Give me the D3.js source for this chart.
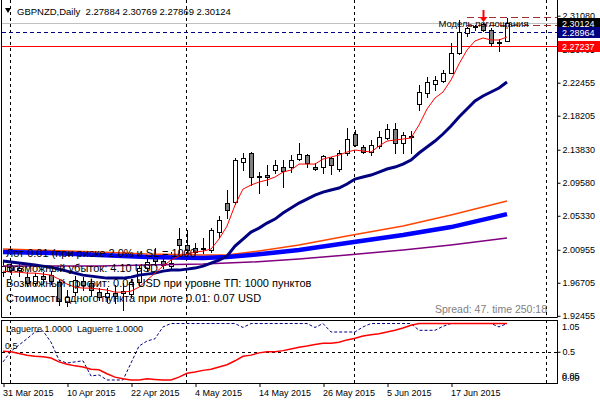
<!DOCTYPE html>
<html>
<head>
<meta charset="utf-8">
<script src="https://cdn.jsdelivr.net/npm/d3@7"></script>
<style>
  body { margin: 0; background: #fff; }
  svg { display: block; }
  text { font-family: "Liberation Sans", Arial, sans-serif; }
</style>
</head>
<body>
<div id="chart"></div>
<script>
// GBPNZD daily, 31 Mar 2015 .. 26 Jun 2015 (bar index 0..63)
const opens = [1.98076,1.98849,1.98334,1.97433,1.96661,1.97561,1.97690,1.96789,1.94213,1.95501,
  1.96918,1.96661,1.95501,1.94858,1.95373,1.95373,1.95244,1.96789,1.98592,2.00009,
  1.99493,1.98849,2.02327,2.01554,2.01168,2.01039,2.00910,2.03228,2.06963,2.07091,
  2.12242,2.13402,2.10439,2.10568,2.11212,2.11599,2.11599,2.12629,2.13144,2.11599,
  2.11599,2.12758,2.11341,2.13402,2.15849,2.14175,2.13530,2.14303,2.15334,2.16493,
  2.14690,2.15591,2.19712,2.21129,2.22288,2.22674,2.23704,2.26280,2.28855,2.29628,
  2.30014,2.29242,2.27696,2.27884];
const highs = [1.99364,1.99236,1.99107,1.98076,1.97948,1.98076,1.98205,1.97175,1.95759,1.97561,
  1.97433,1.97175,1.96017,1.96017,1.96403,1.96661,1.97175,1.98978,2.00137,2.01168,
  2.00266,2.00652,2.03743,2.03486,2.01812,2.02456,2.03743,2.05288,2.08637,2.12758,
  2.13402,2.13530,2.10954,2.11856,2.12500,2.12500,2.13144,2.14690,2.13273,2.12114,
  2.13144,2.12887,2.13788,2.16621,2.16364,2.14432,2.15076,2.16235,2.17136,2.17265,
  2.16106,2.16235,2.22159,2.23189,2.23318,2.24090,2.27567,2.30529,2.29628,2.29886,
  2.30143,2.29499,2.28083,2.30769];
const lows = [1.97561,1.97819,1.97561,1.96274,1.96403,1.96661,1.96532,1.93827,1.93698,1.95115,
  1.95759,1.95115,1.94471,1.94213,1.94085,1.93183,1.94858,1.96403,1.98205,1.98978,
  1.98592,1.98334,2.00266,1.99880,1.99880,2.00524,2.00652,2.02585,2.05031,2.06834,
  2.11212,2.09281,2.08251,2.09281,2.10826,2.09024,2.10954,2.12500,2.11599,2.11212,
  2.10826,2.10697,2.11083,2.13144,2.14303,2.13402,2.13144,2.14046,2.15205,2.13402,
  2.13402,2.13402,2.18939,2.20614,2.21515,2.22545,2.23640,2.26151,2.28469,2.29242,
  2.29113,2.27181,2.26537,2.27869];
const closes = [1.98849,1.98334,1.98592,1.96661,1.97561,1.97175,1.96918,1.94342,1.94858,1.97047,
  1.96403,1.95759,1.94858,1.95373,1.94986,1.95630,1.96789,1.98592,1.99364,1.99493,
  1.98978,1.99236,2.01554,2.00910,2.00652,2.01168,2.03486,2.04773,2.06061,2.12500,
  2.12758,2.10311,2.10380,2.10311,2.11856,2.11083,2.12500,2.13273,2.12114,2.11406,
  2.13015,2.11856,2.13402,2.15205,2.14432,2.13530,2.14432,2.15462,2.16493,2.14690,
  2.15720,2.15462,2.21257,2.22545,2.22803,2.23704,2.26280,2.28984,2.29499,2.29757,
  2.29242,2.27567,2.27632,2.30124];

// fast MA (red) and medium MA (navy), one value per bar
const maRed = [1.98205,1.98076,1.98076,1.97948,1.97948,1.97819,1.97690,1.97175,1.96532,1.96145,
  1.96017,1.96017,1.95888,1.95759,1.95501,1.95501,1.95630,1.96145,1.97047,1.97948,
  1.98849,1.99622,2.00137,2.00395,2.00652,2.00781,2.01039,2.02327,2.04001,2.06705,
  2.08766,2.09281,2.09667,2.09925,2.10311,2.10954,2.11212,2.11985,2.11985,2.11985,
  2.12629,2.12887,2.13144,2.13530,2.13788,2.13659,2.13530,2.14303,2.14947,2.15076,
  2.15205,2.15334,2.17007,2.19068,2.20485,2.21257,2.22803,2.24863,2.26666,2.27825,
  2.28211,2.27954,2.27954,2.28340];
const maNavy = [1.99493,1.99364,1.99236,1.99107,1.98978,1.98849,1.98720,1.98463,1.98205,1.97948,
  1.97690,1.97561,1.97433,1.97304,1.97304,1.97304,1.97433,1.97690,1.97819,1.97948,
  1.98205,1.98334,1.98334,1.98463,1.98592,1.98849,1.99236,1.99622,2.00137,2.01425,
  2.02327,2.03228,2.03743,2.04387,2.04902,2.05675,2.06319,2.06963,2.07478,2.07993,
  2.08379,2.08637,2.08895,2.09410,2.10054,2.10311,2.10568,2.10954,2.11341,2.11599,
  2.11985,2.12500,2.13402,2.14175,2.14947,2.15849,2.16879,2.18038,2.19068,2.20098,
  2.20742,2.21257,2.21772,2.22545];

// slow MAs, read at a few bars
const maBlueIdx = [0, 6, 12, 18, 25, 28, 31, 37, 43, 50, 56, 63];
const maBlue = [2.00652,2.00524,2.00266,2.00009,1.99880,2.00009,2.00266,2.00910,2.01812,2.02842,2.03872,2.05546];
const maOrangeIdx = [0, 12, 18, 25, 28, 31, 37, 43, 50, 56, 63];
const maOrange = [2.01039,2.00652,2.00395,2.00266,2.00266,2.00652,2.01554,2.02713,2.04001,2.05417,2.07220];
const maPurpleIdx = [0, 12, 18, 25, 31, 37, 43, 50, 56, 63];
const maPurple = [1.98849,1.98849,1.98978,1.99107,1.99364,1.99751,2.00266,2.00910,2.01554,2.02456];

// Laguerre subwindow
const lagRed = [0.51,0.50,0.47,0.44,0.42,0.41,0.39,0.32,0.28,0.25,
  0.23,0.19,0.18,0.11,0.05,0.02,0,0,0.02,0.01,
  0,0,0.05,0.12,0.14,0.17,0.19,0.23,0.27,0.34,
  0.42,0.44,0.48,0.50,0.50,0.52,0.55,0.58,0.60,0.63,
  0.65,0.65,0.67,0.71,0.74,0.78,0.80,0.82,0.85,0.88,
  0.92,0.97,1,1,1,1,1,1,1,1,
  1,1,1,1];
const lagBlue = [0.32,0.51,0.62,0.73,0.85,0.87,0.67,0.35,0.30,0.32,
  0.34,0.07,0.09,0,0,0,0.30,0.60,0.69,0.73,
  0.94,1,1,1,1,1,1,1,1,1,
  0.93,1,1,1,1,1,1,1,1,0.93,
  1,0.85,0.85,0.85,0.85,0.94,1,1,1,1,
  1,1,0.88,0.88,0.88,0.95,1,1,1,1,
  1,1,0.94,1];

// axes
const priceTicks = [2.31080, 2.26705, 2.22455, 2.18205, 2.13830, 2.09580, 2.05330, 2.00955, 1.96705, 1.92455];
const dateIdx = [0, 8, 16, 24, 32, 40, 48, 56];
const dateLabels = ["31 Mar 2015", "10 Apr 2015", "22 Apr 2015", "4 May 2015",
  "14 May 2015", "26 May 2015", "5 Jun 2015", "17 Jun 2015"];
const gridIdx = [1, 23, 44, 68];

// horizontal objects
const bidPrice = closes[closes.length - 1];
const navyLevel = 2.28964;
const redLevel = 2.27237;
const patternLevels = [2.30954, 2.29886];
const patternBar = 58;
const arrowBar = 60;

const infoLines = [
  "Лот 0.01 (при риске 2.0% и SL = 1000",
  "Возможный убыток: 4.10 USD",
  "Возможный профит: 0.04 USD при уровне ТП: 1000 пунктов",
  "Стоимость одного пункта при лоте 0.01: 0.07 USD"
];

const width = 600, height = 400;
const plotRight = 557, mainBottom = 317, subTop = 320, subBottom = 383;

const svg = d3.select("#chart").append("svg")
  .attr("width", width).attr("height", height);
svg.append("rect").attr("width", width).attr("height", height).attr("fill", "#fff");

const x = d3.scaleLinear().domain([0, 68]).range([3, 547]);
const y = d3.scaleLinear().domain([1.92300, 2.32841]).range([mainBottom, 2]);
const ySub = d3.scaleLinear().domain([-0.05, 1.05]).range([382.8, 320.7]);
const px = i => Math.round(x(i)) + 0.5;

const defs = svg.append("defs");
defs.append("clipPath").attr("id", "clipMain").append("rect")
  .attr("x", 2).attr("y", 0).attr("width", plotRight - 2).attr("height", mainBottom);
defs.append("clipPath").attr("id", "clipSub").append("rect")
  .attr("x", 2).attr("y", subTop + 1).attr("width", plotRight - 2).attr("height", subBottom - subTop - 1);

// vertical grid
gridIdx.forEach(i => {
  [[0, mainBottom], [subTop, subBottom]].forEach(([a, b]) => {
    svg.append("line")
      .attr("x1", px(i) - 1).attr("x2", px(i) - 1).attr("y1", a).attr("y2", b)
      .attr("stroke", "#000").attr("stroke-dasharray", "3,3");
  });
});

const main = svg.append("g").attr("clip-path", "url(#clipMain)");

// info text (drawn under the chart)
const info = svg.append("g").attr("font-size", 11).attr("fill", "#000");
infoLines.forEach((t, k) => {
  info.append("text").attr("x", 6).attr("y", 257 + k * 15).text(t);
});

// horizontal levels
main.append("line").attr("x1", 2).attr("x2", plotRight)
  .attr("y1", Math.round(y(bidPrice)) + 0.5).attr("y2", Math.round(y(bidPrice)) + 0.5)
  .attr("stroke", "#c0c0c0");
main.append("line").attr("x1", 2).attr("x2", plotRight)
  .attr("y1", Math.round(y(navyLevel)) + 0.5).attr("y2", Math.round(y(navyLevel)) + 0.5)
  .attr("stroke", "#000080").attr("stroke-dasharray", "4,3");
main.append("line").attr("x1", 2).attr("x2", plotRight)
  .attr("y1", Math.round(y(redLevel)) + 0.5).attr("y2", Math.round(y(redLevel)) + 0.5)
  .attr("stroke", "#ff0000");
main.selectAll(".pattern").data(patternLevels).join("line")
  .attr("x1", x(patternBar)).attr("x2", plotRight)
  .attr("y1", d => Math.round(y(d)) + 0.5).attr("y2", d => Math.round(y(d)) + 0.5)
  .attr("stroke", "#a03030").attr("stroke-dasharray", "7,4");

// candles
const bars = d3.range(opens.length);
main.selectAll(".wick").data(bars).join("line")
  .attr("x1", px).attr("x2", px)
  .attr("y1", i => Math.round(y(highs[i]))).attr("y2", i => Math.round(y(lows[i])) + 1)
  .attr("stroke", "#000");
main.selectAll(".body").data(bars).join("rect")
  .attr("x", i => px(i) - 2)
  .attr("y", i => Math.round(y(Math.max(opens[i], closes[i]))) + 0.5)
  .attr("width", 4)
  .attr("height", i => Math.max(1, Math.round(y(Math.min(opens[i], closes[i]))) - Math.round(y(Math.max(opens[i], closes[i])))))
  .attr("fill", i => closes[i] >= opens[i] ? "#fff" : "#808080")
  .attr("stroke", "#000");

// moving averages
const line = d3.line().x(d => x(d[0])).y(d => y(d[1]));
const maSeries = [
  { idx: maPurpleIdx, vals: maPurple, color: "#800080", w: 1.5 },
  { idx: maOrangeIdx, vals: maOrange, color: "#ff4500", w: 1.5 },
  { idx: maBlueIdx, vals: maBlue, color: "#0000ff", w: 4.5 },
  { idx: bars, vals: maNavy, color: "#000080", w: 3 },
  { idx: bars, vals: maRed, color: "#ff0000", w: 1 }
];
maSeries.forEach(s => {
  main.append("path")
    .attr("d", line(s.idx.map((i, k) => [i, s.vals[k]])))
    .attr("fill", "none").attr("stroke", s.color).attr("stroke-width", s.w);
});

// pattern arrow + label
const ax = px(arrowBar);
const tipY = Math.round(y(highs[arrowBar])) - 1;
svg.append("line").attr("x1", ax).attr("x2", ax).attr("y1", tipY - 12).attr("y2", tipY - 4)
  .attr("stroke", "#ff0000").attr("stroke-width", 2);
svg.append("path")
  .attr("d", `M${ax - 4},${tipY - 5} L${ax + 4},${tipY - 5} L${ax},${tipY} Z`)
  .attr("fill", "#ff0000");
svg.append("text").attr("x", ax).attr("y", 27).attr("text-anchor", "middle")
  .attr("font-size", 9.5).text("Модель поглощания");

// header
svg.append("path").attr("d", "M5,8 L11,8 L8,13 Z").attr("fill", "#000");
const last = opens.length - 1;
svg.append("text").attr("x", 17).attr("y", 15).attr("font-size", 9.5)
  .style("white-space", "pre")
  .text(`GBPNZD,Daily  ${opens[last].toFixed(5)} ${highs[last].toFixed(5)} ${lows[last].toFixed(5)} ${closes[last].toFixed(5)}`);

svg.append("text").attr("x", 547).attr("y", 313).attr("text-anchor", "end")
  .attr("font-size", 10.5).attr("fill", "#808080").text("Spread: 47. time 250:18");

// subwindow
const sub = svg.append("g").attr("clip-path", "url(#clipSub)");
sub.append("line").attr("x1", 2).attr("x2", plotRight)
  .attr("y1", Math.round(ySub(0.5)) + 0.5).attr("y2", Math.round(ySub(0.5)) + 0.5)
  .attr("stroke", "#000").attr("stroke-dasharray", "3,3");
const subLine = d3.line().x((d, i) => x(i)).y(d => ySub(d));
sub.append("path").attr("d", subLine(lagBlue)).attr("fill", "none")
  .attr("stroke", "#000080").attr("stroke-dasharray", "3,2");
sub.append("path").attr("d", subLine(lagRed)).attr("fill", "none")
  .attr("stroke", "#ff0000").attr("stroke-width", 1.5);
svg.append("text").attr("x", 6).attr("y", 332).attr("font-size", 9)
  .style("white-space", "pre").text("Laguerre 1.0000  Laguerre 1.0000");
svg.append("text").attr("x", 5).attr("y", 349).attr("font-size", 9).text("0.5");

// frames
svg.append("path")
  .attr("d", `M1.5,0 V${mainBottom + 0.5} H${plotRight + 0.5} V0`)
  .attr("fill", "none").attr("stroke", "#000");
svg.append("rect").attr("x", 1.5).attr("y", subTop + 0.5)
  .attr("width", plotRight - 1).attr("height", subBottom - subTop)
  .attr("fill", "none").attr("stroke", "#000");

// price axis
const yAxis = d3.axisRight(y).tickValues(priceTicks).tickSize(3).tickPadding(2)
  .tickFormat(d3.format(".5f"));
const yAxisG = svg.append("g").attr("transform", `translate(${plotRight + 0.5},0)`).call(yAxis);
yAxisG.select(".domain").remove();
yAxisG.selectAll("text").attr("font-size", 9).attr("font-family", "Liberation Sans, Arial, sans-serif").attr("fill", "#000");

// price boxes
const boxes = [
  { v: bidPrice, bg: "#000" },
  { v: navyLevel, bg: "#000080" },
  { v: redLevel, bg: "#ff0000" }
];
boxes.forEach(b => {
  const cy = Math.round(y(b.v));
  svg.append("rect").attr("x", plotRight + 1).attr("y", cy - 5).attr("width", width - plotRight - 1).attr("height", 11)
    .attr("fill", b.bg);
  svg.append("text").attr("x", plotRight + 5).attr("y", cy + 4).attr("font-size", 9)
    .attr("fill", "#fff").text(b.v.toFixed(5));
});

// subwindow axis
const subAxis = d3.axisRight(ySub).tickValues([0.5]).tickSize(3).tickPadding(2).tickFormat(d3.format(".1f"));
const subAxisG = svg.append("g").attr("transform", `translate(${plotRight + 0.5},0)`).call(subAxis);
subAxisG.select(".domain").remove();
subAxisG.selectAll("text").attr("font-size", 9).attr("font-family", "Liberation Sans, Arial, sans-serif");
svg.append("text").attr("x", plotRight + 5).attr("y", 330).attr("font-size", 9).text("1.05");
svg.append("text").attr("x", plotRight + 5).attr("y", 379).attr("font-size", 9).text("0.05");
svg.append("text").attr("x", plotRight + 5).attr("y", 381).attr("font-size", 9).text("0.00");

// time axis
const xAxis = d3.axisBottom(x).tickValues(dateIdx).tickSize(4).tickPadding(3)
  .tickFormat((d, k) => dateLabels[k]);
const xAxisG = svg.append("g").attr("transform", `translate(0.5,${subBottom})`).call(xAxis);
xAxisG.select(".domain").remove();
xAxisG.selectAll("text").attr("text-anchor", "start").attr("x", -1)
  .attr("font-size", 9).attr("font-family", "Liberation Sans, Arial, sans-serif");
</script>
</body>
</html>
